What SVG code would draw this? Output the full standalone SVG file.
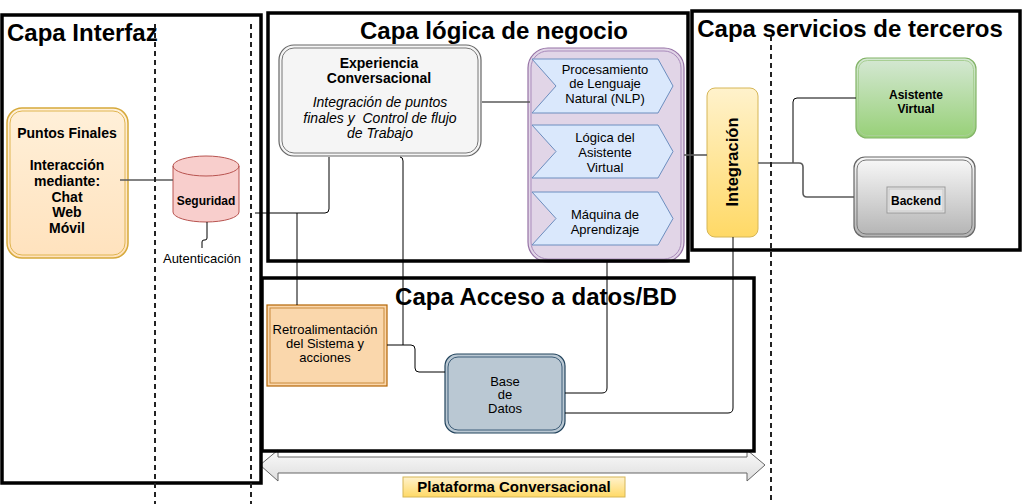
<svg xmlns="http://www.w3.org/2000/svg" width="1022" height="504" viewBox="0 0 1022 504">
<defs>
<linearGradient id="gYel" x1="0" y1="0" x2="0" y2="1"><stop offset="0" stop-color="#fff2cc"/><stop offset="1" stop-color="#ffd966"/></linearGradient>
<linearGradient id="gGreen" x1="0" y1="0" x2="0" y2="1"><stop offset="0" stop-color="#d5e8d4"/><stop offset="1" stop-color="#97d077"/></linearGradient>
<linearGradient id="gGray" x1="0" y1="0" x2="0" y2="1"><stop offset="0" stop-color="#f9f9f9"/><stop offset="1" stop-color="#b3b3b3"/></linearGradient>
<linearGradient id="gArrow" x1="0" y1="0" x2="0" y2="1"><stop offset="0" stop-color="#fafafa"/><stop offset="1" stop-color="#dedede"/></linearGradient>
<linearGradient id="gOrange" x1="0" y1="0" x2="0" y2="1"><stop offset="0" stop-color="#fff0d9"/><stop offset="1" stop-color="#ffe2bd"/></linearGradient>
</defs>
<style>
text{font-family:"Liberation Sans",Arial,Helvetica,sans-serif;fill:#000}
.title{font-size:24px;font-weight:bold}
.b14{font-size:14px;font-weight:bold}
.i14{font-size:14px;font-style:italic}
.r13{font-size:13px}
.b12{font-size:12px;font-weight:bold}
.b15{font-size:15px;font-weight:bold}
.mid{text-anchor:middle}
.layer{fill:none;stroke:#000;stroke-width:3.5}
.dash{fill:none;stroke:#222;stroke-width:2;stroke-dasharray:5 4}
.edge{fill:none;stroke:#000;stroke-width:1}
.edgeG{fill:none;stroke:#5a5a5a;stroke-width:1.6}
.chev{fill:#dae8fc;stroke:#6c8ebf;stroke-width:1}
</style>

<g id="nodes">
<g id="puntos-finales">
<rect x="7" y="108" width="121" height="150" rx="15" fill="url(#gOrange)" stroke="#d6a93b" stroke-width="1.5"/>
<rect x="10" y="111" width="115" height="144" rx="12" fill="none" stroke="#e0b550" stroke-width="1"/>
<text class="b14 mid" x="67" y="138">Puntos Finales</text>
<text class="b14 mid" x="67" y="170">Interacción</text>
<text class="b14 mid" x="67" y="186">mediante:</text>
<text class="b14 mid" x="67" y="202">Chat</text>
<text class="b14 mid" x="67" y="217">Web</text>
<text class="b14 mid" x="67" y="233">Móvil</text>
</g>
<g id="seguridad">
<path d="M173,166 A33,10 0 0 1 239,166 V212 A33,10 0 0 1 173,212 Z" fill="#f8cecc" stroke="#b85450" stroke-width="1"/>
<path d="M173,166 A33,10 0 0 0 239,166" fill="none" stroke="#b85450" stroke-width="1"/>
<text class="b12 mid" x="206" y="205">Seguridad</text>
</g>
<g id="autenticacion">
<text class="r13 mid" x="202" y="263">Autenticación</text>
</g>
<g id="experiencia">
<rect x="279" y="45" width="202" height="111" rx="15" fill="#f5f5f5" stroke="#666" stroke-width="1.2"/>
<rect x="282" y="48" width="196" height="105" rx="12" fill="none" stroke="#777" stroke-width="1"/>
<text class="b14 mid" x="379" y="68">Experiencia</text>
<text class="b14 mid" x="379" y="83">Conversacional</text>
<text class="i14 mid" x="380" y="107">Integración de puntos</text>
<text class="i14 mid" x="380" y="123" xml:space="preserve">finales y  Control de flujo</text>
<text class="i14 mid" x="380" y="138">de Trabajo</text>
</g>
<g id="asistente-logica">
<rect x="528" y="48" width="156" height="214" rx="20" fill="#e1d5e7" stroke="#9673a6" stroke-width="1.2"/>
<rect x="531" y="51" width="150" height="208" rx="17" fill="none" stroke="#a98bbb" stroke-width="1"/>
<g id="nlp">
<polygon class="chev" points="532,59 658,59 673,86 658,113 532,113 556,86"/>
<text class="r13 mid" x="605" y="74">Procesamiento</text>
<text class="r13 mid" x="605" y="88">de Lenguaje</text>
<text class="r13 mid" x="605" y="103">Natural (NLP)</text>
</g>
<g id="logica-asistente">
<polygon class="chev" points="532,125 658,125 673,151.5 658,178 532,178 556,151.5"/>
<text class="r13 mid" x="605" y="142">Lógica del</text>
<text class="r13 mid" x="605" y="157">Asistente</text>
<text class="r13 mid" x="605" y="172">Virtual</text>
</g>
<g id="machine-learning">
<polygon class="chev" points="532,192 658,192 673,218.5 658,245 532,245 556,218.5"/>
<text class="r13 mid" x="605" y="219">Máquina de</text>
<text class="r13 mid" x="605" y="234">Aprendizaje</text>
</g>
</g>
<g id="integracion">
<rect x="707" y="88" width="51" height="149" rx="8" fill="url(#gYel)" stroke="#d6b656" stroke-width="1"/>
<text class="mid" x="0" y="0" transform="translate(738,162) rotate(-90)" style="font-size:16.5px;font-weight:bold">Integración</text>
</g>
<g id="asistente-virtual">
<rect x="856" y="58" width="120" height="80" rx="11" fill="url(#gGreen)" stroke="#82b366" stroke-width="1.2"/>
<rect x="858.5" y="60.5" width="115" height="75" rx="9" fill="none" stroke="#a8cf94" stroke-width="1"/>
<text class="b12 mid" x="916" y="99">Asistente</text>
<text class="b12 mid" x="916" y="113">Virtual</text>
</g>
<g id="backend">
<rect x="854" y="157" width="121" height="80" rx="11" fill="url(#gGray)" stroke="#666" stroke-width="1.2"/>
<rect x="857" y="160" width="115" height="74" rx="9" fill="none" stroke="#777" stroke-width="1"/>
<rect x="887" y="187" width="58" height="26" fill="#e6e6e6" stroke="#999" stroke-width="1"/>
<rect x="889" y="189" width="54" height="22" fill="none" stroke="#c8c8c8" stroke-width="1"/>
<text class="b12 mid" x="916" y="205">Backend</text>
</g>
<g id="retroalimentacion">
<rect x="267" y="305" width="120" height="81" fill="#fad7ac" stroke="#b46504" stroke-width="1.2"/>
<rect x="270" y="308" width="114" height="75" fill="none" stroke="#c98a3a" stroke-width="1"/>
<text class="r13 mid" x="325" y="334">Retroalimentación</text>
<text class="r13 mid" x="325" y="348">del Sistema y</text>
<text class="r13 mid" x="325" y="362">acciones</text>
</g>
<g id="base-datos">
<rect x="445" y="354" width="120" height="79" rx="12" fill="#bac8d3" stroke="#23445d" stroke-width="1.2"/>
<rect x="448" y="357" width="114" height="73" rx="10" fill="none" stroke="#3d5d78" stroke-width="1"/>
<text class="r13 mid" x="505" y="386">Base</text>
<text class="r13 mid" x="505" y="399">de</text>
<text class="r13 mid" x="505" y="413">Datos</text>
</g>
<g id="plataforma">
<polygon points="260,465 278,450 278,457 747,457 747,450 765,465 747,481 747,473 278,473 278,481" fill="url(#gArrow)" stroke="#666" stroke-width="1"/>
<rect x="403" y="477" width="222" height="20" fill="url(#gYel)" stroke="#d6b656" stroke-width="1"/>
<text class="b15 mid" x="514" y="492">Plataforma Conversacional</text>
</g>
</g>

<g id="layers">
<rect class="layer" x="2" y="15" width="259" height="468"/>
<rect class="layer" x="268" y="13" width="420" height="248"/>
<rect class="layer" x="692" y="11" width="328" height="239"/>
<rect class="layer" x="262" y="278" width="492" height="173"/>
<text class="title" x="7" y="41">Capa Interfaz</text>
<text class="title mid" x="494" y="39">Capa lógica de negocio</text>
<text class="title mid" x="850" y="37">Capa servicios de terceros</text>
<text class="title mid" x="536" y="305">Capa Acceso a datos/BD</text>
</g>

<g id="connectors">
<path class="edgeG" d="M120,180 H173"/>
<path class="edge" d="M207,222 V238 Q207,240 205,240 H204 Q202,240 202,242 V248"/>
<path class="edge" d="M255,213 H325 Q329,213 329,209 V157"/>
<path class="edge" d="M297,213 V305"/>
<path class="edge" d="M400,157 Q403,157 403,161 V345"/>
<path class="edge" d="M387,345 H411 Q415,345 415,349 V368 Q415,372 419,372 H445"/>
<path class="edgeG" d="M482,102 H530"/>
<path class="edgeG" d="M684,155 H707"/>
<path class="edge" d="M793,163 V102 Q793,98 797,98 H856"/>
<path class="edgeG" d="M758,163 H799 Q803,163 803,167 V193 Q803,197 807,197 H854"/>
<path class="edge" d="M607,262 V388 Q607,393 602,393 H565"/>
<path class="edge" d="M733,237 V408 Q733,413 728,413 H565"/>
</g>

<g id="guides">
<line class="dash" x1="155" y1="24" x2="155" y2="504"/>
<line class="dash" x1="251" y1="24" x2="251" y2="504"/>
<line class="dash" x1="771" y1="36" x2="771" y2="504"/>
</g>
</svg>
